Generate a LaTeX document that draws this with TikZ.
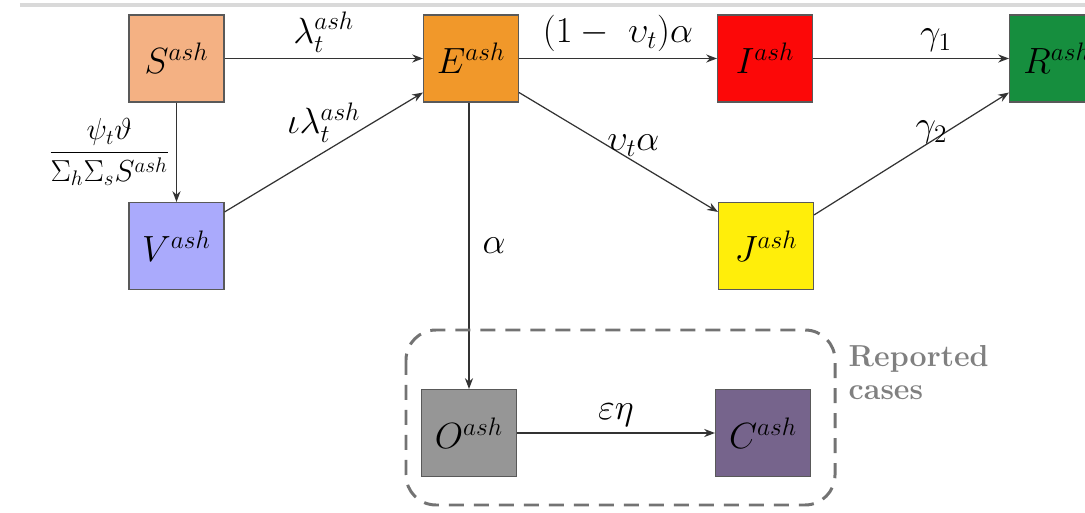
\documentclass[tikz,border=0pt]{standalone}
\usepackage{amsmath}
\usetikzlibrary{arrows.meta}
\newcommand{\ashof}[1]{$#1^{ash}$}
\definecolor{colS}{RGB}{244,177,131}
\definecolor{colE}{RGB}{241,152,42}
\definecolor{colI}{RGB}{252,8,8}
\definecolor{colR}{RGB}{22,142,62}
\definecolor{colV}{RGB}{170,170,252}
\definecolor{colJ}{RGB}{255,238,10}
\definecolor{colO}{RGB}{150,150,150}
\definecolor{colC}{RGB}{118,100,140}

\begin{document}
\begin{tikzpicture}[>=Stealth,
    comp/.style={draw=black!65, line width=0.6pt, minimum width=1.9cm, minimum height=1.74cm, inner sep=0pt, font=\huge},
    flow/.style={->, draw=black!80, line width=0.7pt},
    lbl/.style={font=\huge},
    reportbox/.style={draw=black!55, line width=1.7pt, dash pattern=on 0.3cm off 0.2cm, rounded corners=0.6cm}]

    \useasboundingbox (0,0) rectangle (21.7,-10.26);

    % thin rule along the top edge
    \coordinate (topl) at (0.4,-0.1);
    \coordinate (topr) at (21.7,-0.1);
    \draw[black!15, line width=2pt] (topl) -- (topr);

    % compartments
    \node[comp, fill=colS] (S) at (3.53,-1.17) {\ashof{S}};
    \node[comp, fill=colE] (E) at (9.42,-1.17) {\ashof{E}};
    \node[comp, fill=colI] (I) at (15.30,-1.17) {\ashof{I}};
    \node[comp, fill=colR] (R) at (21.14,-1.17) {\ashof{R}};
    \node[comp, fill=colV] (V) at (3.53,-4.92) {\ashof{V}};
    \node[comp, fill=colJ] (J) at (15.32,-4.92) {\ashof{J}};
    \node[comp, fill=colO] (O) at (9.38,-8.66) {\ashof{O}};
    \node[comp, fill=colC] (C) at (15.26,-8.66) {\ashof{C}};

    % flows
    \draw[flow] (S) -- (E) node[midway, above, lbl] {$\lambda_t^{ash}$};
    \draw[flow] (S) -- (V) node[midway, left, font=\LARGE] {$\displaystyle\frac{\psi_t\vartheta}{\Sigma_h\Sigma_s S^{ash}}$};
    \draw[flow] ([yshift=-0.2cm]V.north east) -- ([yshift=0.2cm]E.south west) node[midway, above, yshift=2pt, lbl] {$\iota\lambda_t^{ash}$};
    \draw[flow] (E) -- (I) node[midway, above, lbl] {$(1-\ \upsilon_t)\alpha$};
    \draw[flow] ([yshift=0.2cm]E.south east) -- ([yshift=-0.2cm]J.north west) node[midway, above right, xshift=-10pt, yshift=-6pt, lbl] {$\upsilon_t\alpha$};
    \draw[flow] (I) -- (R) node[midway, above, xshift=0.5cm, lbl] {$\gamma_1$};
    \draw[flow] ([yshift=-0.26cm]J.north east) -- ([yshift=0.2cm]R.south west) node[midway, above, xshift=0.4cm, yshift=2pt, lbl] {$\gamma_2$};
    \draw[flow] (E.south -| O) -- (O) node[midway, right, xshift=4pt, lbl] {$\alpha$};
    \draw[flow] (O) -- (C) node[midway, above, lbl] {$\varepsilon\eta$};

    % reported cases
    \draw[reportbox] (8.12,-6.6) rectangle (16.7,-10.1);
    \node[anchor=west, align=left, text=black!50, font=\LARGE\bfseries] (rep) at (16.85,-7.45) {Reported\\[-3pt]cases};

\end{tikzpicture}
\end{document}
